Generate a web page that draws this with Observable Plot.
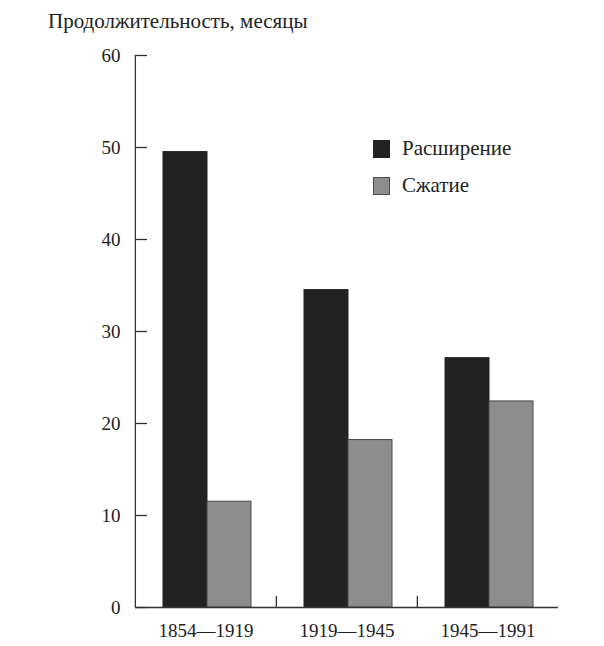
<!DOCTYPE html>
<html>
<head>
<meta charset="utf-8">
<script src="https://cdn.jsdelivr.net/npm/d3@7"></script>
<script src="https://cdn.jsdelivr.net/npm/@observablehq/plot@0.6"></script>
<style>
  body { margin: 0; background: #fff; }
  #wrap { position: relative; width: 604px; height: 646px; font-family: "Liberation Serif", serif; color: #222; }
  #title { position: absolute; left: 48px; top: 11px; font-size: 21px; line-height: 21px; white-space: nowrap; font-family: "Liberation Serif", serif; }
  .leg { position: absolute; left: 373px; display: flex; align-items: center; font-size: 21px; line-height: 21px; white-space: nowrap; }
  .sw { width: 17px; height: 18px; margin-right: 12px; box-sizing: border-box; }
  #chart { position: absolute; left: 0; top: 0; }
</style>
</head>
<body>
<div id="wrap">
  <div id="chart"></div>
  <div id="title"></div>
  <div id="legend"></div>
</div>
<script>
const periods = ["1854—1919", "1919—1945", "1945—1991"];
const series = ["Расширение", "Сжатие"];
const expansion = [49.5, 34.5, 27.1];
const contraction = [11.5, 18.2, 22.4];
const yTicks = [0, 10, 20, 30, 40, 50, 60];
const titleText = "Продолжительность, месяцы";

const colors = {"Расширение": "#222222", "Сжатие": "#8d8d8d"};
const strokes = {"Расширение": "#222222", "Сжатие": "#4a4a4a"};

const data = [];
periods.forEach((p, i) => {
  data.push({period: p, series: series[0], value: expansion[i]});
  data.push({period: p, series: series[1], value: contraction[i]});
});

const W = 604, H = 646, ML = 134, MR = 45, MT = 55, MB = 39;
const padOuter = 0.59;
const align = 0.53;
const facetW = (W - ML - MR) / periods.length;
const bandStep = facetW / (series.length + 2 * padOuter);
// distance from the centre of the first band to the facet's left edge
const edgeOffset = 2 * padOuter * bandStep * align + bandStep / 2;

const chart = Plot.plot({
  width: W,
  height: H,
  marginLeft: ML,
  marginRight: MR,
  marginTop: MT,
  marginBottom: MB,
  style: {fontFamily: "Liberation Serif", fontSize: "19px", color: "#222", background: "transparent"},
  fx: {domain: periods, padding: 0, label: null},
  x: {domain: series, paddingInner: 0, paddingOuter: padOuter, align: align, axis: null},
  y: {domain: [0, 60], ticks: yTicks, label: null},
  marks: [
    Plot.barY(data.filter(d => d.series === series[0]), {fx: "period", x: "series", y: "value", fill: colors[series[0]], stroke: strokes[series[0]], strokeWidth: 1}),
    Plot.barY(data.filter(d => d.series === series[1]), {fx: "period", x: "series", y: "value", fill: colors[series[1]], stroke: strokes[series[1]], strokeWidth: 1}),
    Plot.ruleY([0], {stroke: "#333", strokeWidth: 1.3}),
    Plot.ruleX([periods[0]], {fx: d => d, x: () => series[0], y1: 0, y2: 60, dx: -edgeOffset, stroke: "#333", strokeWidth: 1.3}),
    Plot.ruleX(periods.slice(1), {fx: d => d, x: () => series[0], y1: 0, y2: 1.2, dx: -edgeOffset, stroke: "#333", strokeWidth: 1.3}),
    Plot.axisY(yTicks, {tickSize: 0, tickPadding: 15, fontSize: 19, label: null}),
    Plot.axisY(yTicks, {tickSize: 12, dx: 12, tickFormat: () => "", stroke: "#333", strokeWidth: 1.3, label: null}),
    Plot.axisFx({anchor: "bottom", tickSize: 0, tickPadding: 16, fontSize: 19, label: null})
  ]
});
document.getElementById("chart").appendChild(chart);

const legend = document.getElementById("legend");
const legendTops = [139, 176];
series.forEach((s, i) => {
  const row = document.createElement("div");
  row.className = "leg";
  row.style.top = (legendTops[i] - 1) + "px";
  const sw = document.createElement("div");
  sw.className = "sw";
  sw.style.background = colors[s];
  sw.style.border = "1px solid " + strokes[s];
  const t = document.createElement("span");
  t.textContent = s;
  row.appendChild(sw);
  row.appendChild(t);
  legend.appendChild(row);
});
document.getElementById("title").textContent = titleText;
</script>
</body>
</html>
